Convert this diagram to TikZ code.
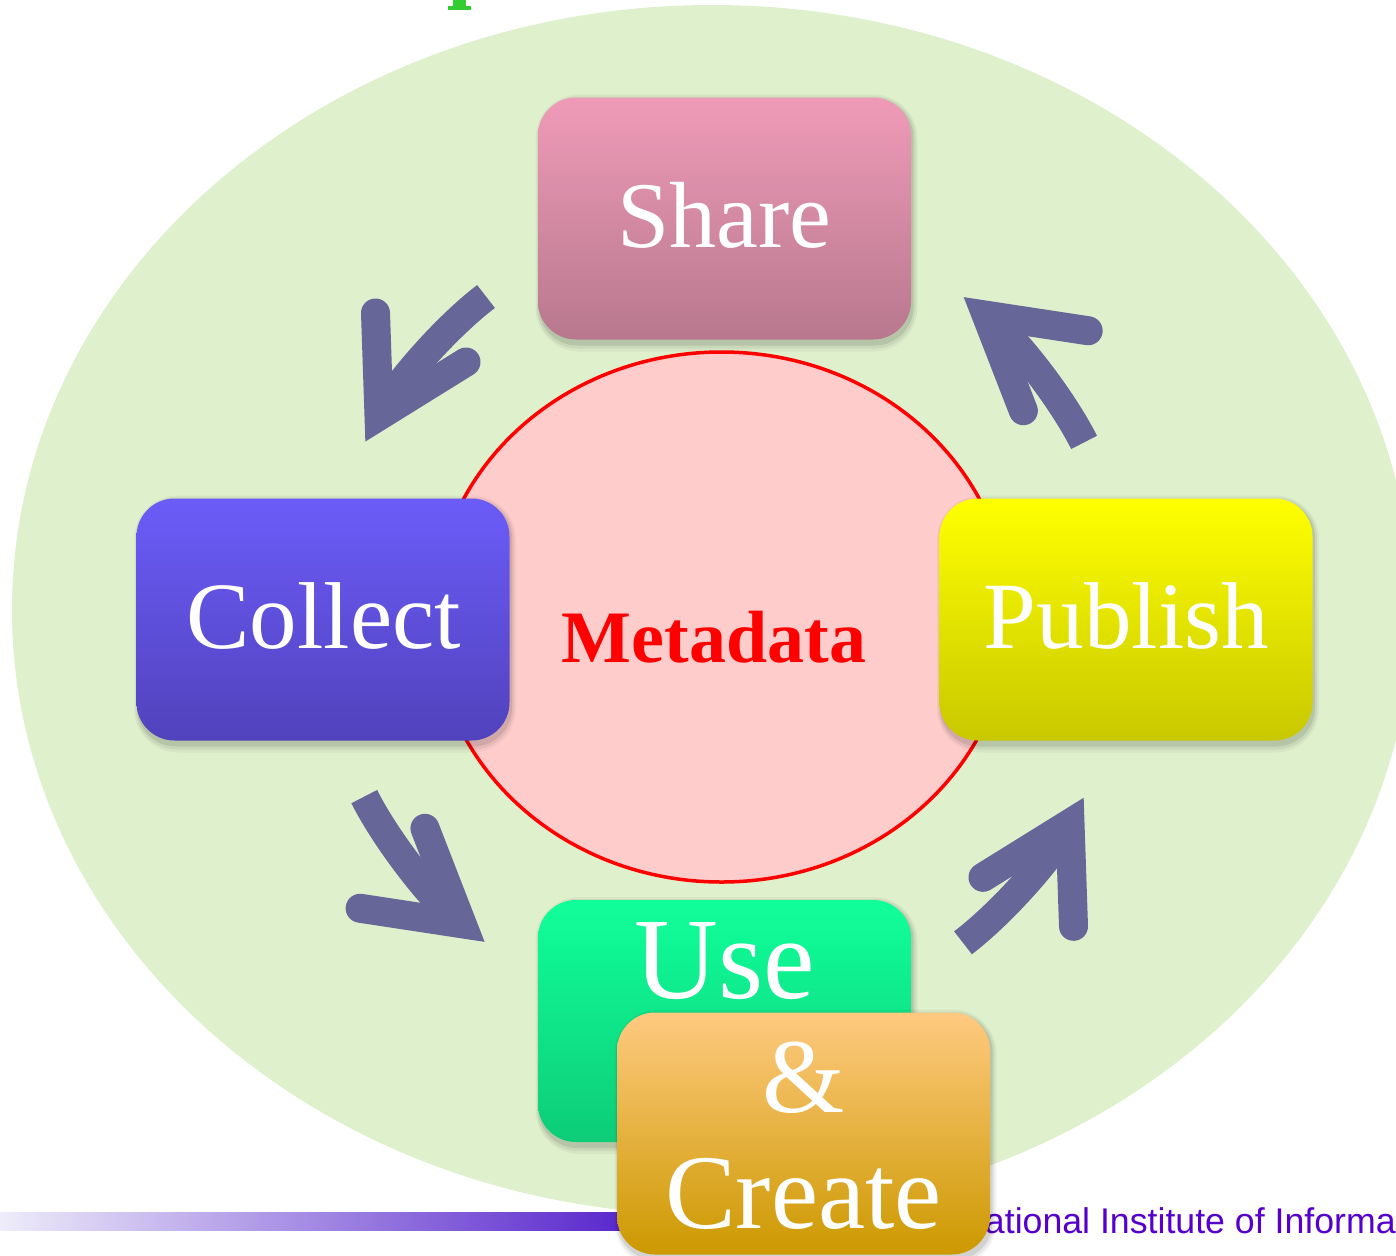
\documentclass[tikz,border=0pt]{standalone}
\usepackage{fontspec}
\setmainfont{Liberation Serif}
\newfontfamily\niisans{Liberation Sans}
\definecolor{bgreen}{RGB}{223,240,204}
\definecolor{metafill}{RGB}{255,204,204}
\definecolor{arrowc}{RGB}{102,102,153}
\definecolor{niicol}{RGB}{85,0,204}
\definecolor{barl}{RGB}{238,236,250}
\definecolor{barr}{RGB}{85,34,204}
\definecolor{titlegreen}{RGB}{51,204,51}
\definecolor{shareT}{RGB}{239,155,184}
\definecolor{shareM}{RGB}{228,148,175}
\definecolor{shareB}{RGB}{184,120,142}
\definecolor{collT}{RGB}{107,92,249}
\definecolor{collB}{RGB}{81,66,188}
\definecolor{pubT}{RGB}{255,255,0}
\definecolor{pubB}{RGB}{200,200,0}
\definecolor{useT}{RGB}{16,255,154}
\definecolor{useB}{RGB}{13,204,120}
\definecolor{crT}{RGB}{255,202,128}
\definecolor{crM}{RGB}{244,176,66}
\definecolor{crB}{RGB}{204,153,0}
\tikzset{
  boxnode/.style={rounded corners=38pt, minimum width=373pt, minimum height=242pt, inner sep=0pt, draw=none},
  boxlabel/.style={anchor=base, inner sep=0pt, text=white},
  arrowshaft/.style={draw=arrowc, line width=29pt},
  arrowhd/.style={draw=arrowc, line width=29pt, line cap=round, line join=miter},
}
\newcommand\softshadow[1]{%
  \begin{scope}[shift={#1}]
    \fill[black,opacity=0.04,rounded corners=44pt] (-189,-124) rectangle (193,133);
    \fill[black,opacity=0.06,rounded corners=41pt] (-187.5,-122) rectangle (191,130);
    \fill[black,opacity=0.09,rounded corners=39pt] (-186,-120) rectangle (189,127);
  \end{scope}}
\newcommand\cyclearrow[2]{%
  \begin{scope}[shift={#1},rotate=#2]
    \draw[arrowshaft] (121,-145.5) .. controls (81,-115) and (30,-57) .. (14,-26);
    \draw[arrowhd] (10.5,-129) -- (14,-26) -- (101,-80);
  \end{scope}}
\begin{document}
\begin{tikzpicture}[x=1pt,y=-1pt]
\useasboundingbox (0,0) rectangle (1396,1255);
\clip (0,0) rectangle (1396,1255);
% background ellipse
\fill[bgreen] (712,610) ellipse [x radius=700, y radius=605];
% fragment of a title above
\fill[titlegreen] (453,0) rectangle (466,7);
\fill[titlegreen] (448,6.5) rectangle (471,10);
% metadata ellipse
\draw[red, line width=3.5pt, fill=metafill] (721.5,617) ellipse [x radius=288, y radius=265];
\node[anchor=base, inner sep=0pt, text=red, font=\bfseries\fontsize{74}{74}\selectfont] (meta) at (714,662) {Metadata};
% footer bar and text
\shade[left color=barl, right color=barr] (0,1212) rectangle (640,1230);
\node[anchor=base west, inner sep=0pt, text=niicol, font=\niisans\fontsize{35.7}{36}\selectfont] (nii) at (959,1233) {National Institute of Informatics};
% arrows
\cyclearrow{(365,442)}{0}
\cyclearrow{(963.3,296.7)}{-100.6}
\cyclearrow{(485,942.3)}{79.4}
\cyclearrow{(1084,797.3)}{180}
% boxes
\softshadow{(724.5,218.5)}
\node[boxnode, top color=shareT, middle color=shareM, bottom color=shareB] (share) at (724.5,218.5) {};
\node[boxlabel, font=\fontsize{94}{94}\selectfont] (sharet) at (724.5,247) {Share};
\softshadow{(323,619.5)}
\node[boxnode, top color=collT, bottom color=collB] (collect) at (323,619.5) {};
\node[boxlabel, font=\fontsize{95}{95}\selectfont] (collectt) at (323.5,648) {Collect};
\softshadow{(1126,619.5)}
\node[boxnode, top color=pubT, bottom color=pubB] (publish) at (1126,619.5) {};
\node[boxlabel, font=\fontsize{95}{95}\selectfont] (publisht) at (1126.5,648) {Publish};
\softshadow{(724.5,1021)}
\node[boxnode, top color=useT, bottom color=useB] (use) at (724.5,1021) {};
\node[boxlabel, font=\fontsize{116}{116}\selectfont] (uset) at (724.5,998) {Use};
\softshadow{(803.5,1133.5)}
\node[boxnode, top color=crT, middle color=crM, bottom color=crB] (create) at (803.5,1133.5) {};
\node[boxlabel, font=\fontsize{106}{106}\selectfont] (ampt) at (804,1112) {\&};
\node[boxlabel, font=\fontsize{106}{106}\selectfont] (createt) at (803.5,1228) {Create};
\end{tikzpicture}
\end{document}
